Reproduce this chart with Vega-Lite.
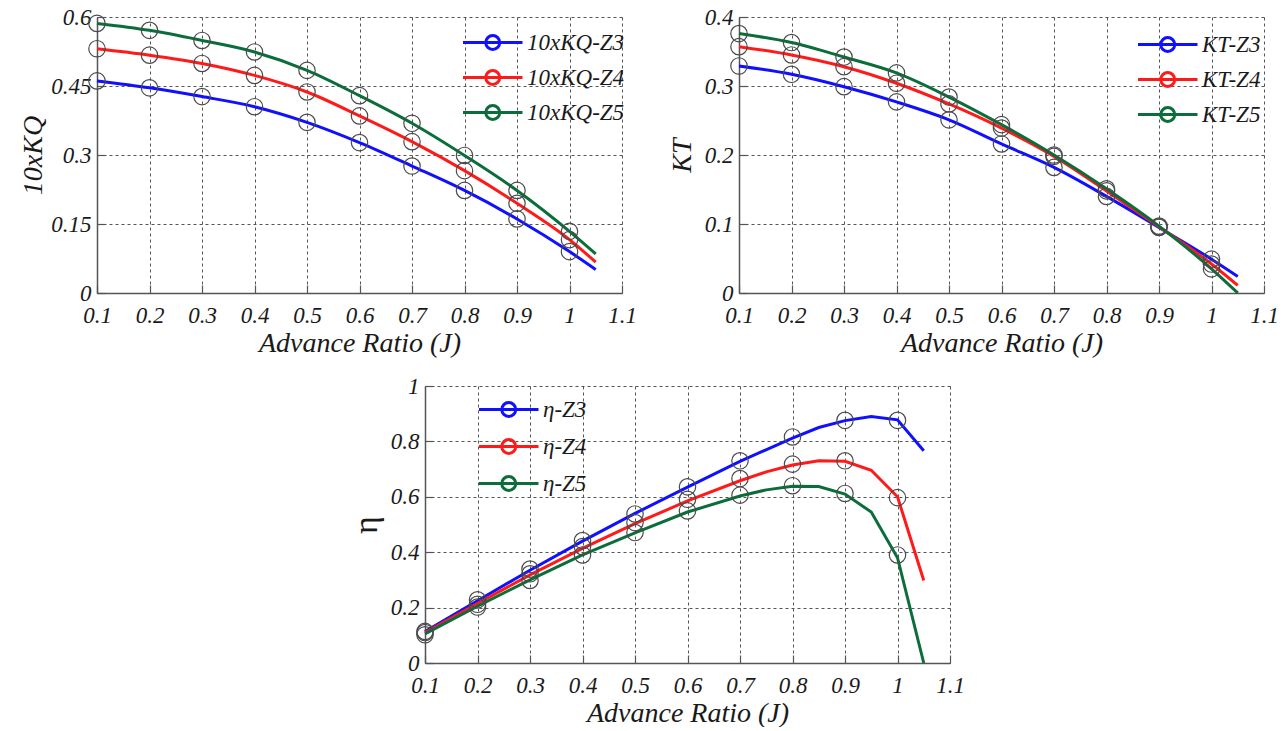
{
  "$schema": "https://vega.github.io/schema/vega-lite/v6.json",
  "padding": {"left": 19, "top": 6, "right": 0, "bottom": 0},
  "background": "white",
  "spacing": 18,
  "center": false,
  "resolve": {"scale": {"color": "independent"}, "legend": {"color": "independent"}},
  "config": {
    "view": {"stroke": null},
    "font": "Liberation Serif",
    "axis": {
      "labelFont": "Times New Roman, Liberation Serif, serif", "labelFontStyle": "italic", "labelFontSize": 23, "labelColor": "#1a1a1a",
      "titleFont": "Times New Roman, Liberation Serif, serif", "titleFontStyle": "italic", "titleFontSize": 28, "titleFontWeight": "normal", "titleColor": "#1a1a1a",
      "domainColor": "#555555", "domainWidth": 1.5, "tickColor": "#555555", "tickWidth": 1.2,
      "gridColor": "#555555", "gridDash": [3, 3], "gridWidth": 1,
      "labelOverlap": false, "labelFlush": false, "labelPadding": 14
    },
    "legend": {
      "labelFont": "Times New Roman, Liberation Serif, serif", "labelFontStyle": "italic", "labelFontSize": 23, "labelColor": "#1a1a1a",
      "symbolType": "M-1,0H6M3.32,0A0.82,0.82,0,1,1,1.68,0A0.82,0.82,0,1,1,3.32,0",
      "symbolSize": 289, "symbolStrokeWidth": 3, "symbolFillColor": "transparent",
      "labelOffset": 44, "rowPadding": 8, "padding": 0, "title": null
    }
  },
  "datasets": {
    "kq": [
      {"J": 0.1, "s": "10xKQ-Z3", "v": 0.461}, {"J": 0.2, "s": "10xKQ-Z3", "v": 0.446}, {"J": 0.3, "s": "10xKQ-Z3", "v": 0.427}, {"J": 0.4, "s": "10xKQ-Z3", "v": 0.405}, {"J": 0.5, "s": "10xKQ-Z3", "v": 0.371}, {"J": 0.6, "s": "10xKQ-Z3", "v": 0.327}, {"J": 0.7, "s": "10xKQ-Z3", "v": 0.276}, {"J": 0.8, "s": "10xKQ-Z3", "v": 0.223}, {"J": 0.9, "s": "10xKQ-Z3", "v": 0.161}, {"J": 1.0, "s": "10xKQ-Z3", "v": 0.090}, {"J": 1.05, "s": "10xKQ-Z3", "v": 0.051},
      {"J": 0.1, "s": "10xKQ-Z4", "v": 0.531}, {"J": 0.2, "s": "10xKQ-Z4", "v": 0.517}, {"J": 0.3, "s": "10xKQ-Z4", "v": 0.499}, {"J": 0.4, "s": "10xKQ-Z4", "v": 0.473}, {"J": 0.5, "s": "10xKQ-Z4", "v": 0.437}, {"J": 0.6, "s": "10xKQ-Z4", "v": 0.385}, {"J": 0.7, "s": "10xKQ-Z4", "v": 0.329}, {"J": 0.8, "s": "10xKQ-Z4", "v": 0.266}, {"J": 0.9, "s": "10xKQ-Z4", "v": 0.195}, {"J": 1.0, "s": "10xKQ-Z4", "v": 0.116}, {"J": 1.05, "s": "10xKQ-Z4", "v": 0.067},
      {"J": 0.1, "s": "10xKQ-Z5", "v": 0.586}, {"J": 0.2, "s": "10xKQ-Z5", "v": 0.571}, {"J": 0.3, "s": "10xKQ-Z5", "v": 0.549}, {"J": 0.4, "s": "10xKQ-Z5", "v": 0.524}, {"J": 0.5, "s": "10xKQ-Z5", "v": 0.484}, {"J": 0.6, "s": "10xKQ-Z5", "v": 0.429}, {"J": 0.7, "s": "10xKQ-Z5", "v": 0.369}, {"J": 0.8, "s": "10xKQ-Z5", "v": 0.299}, {"J": 0.9, "s": "10xKQ-Z5", "v": 0.223}, {"J": 1.0, "s": "10xKQ-Z5", "v": 0.134}, {"J": 1.05, "s": "10xKQ-Z5", "v": 0.085}
    ],
    "kt": [
      {"J": 0.1, "s": "KT-Z3", "v": 0.329}, {"J": 0.2, "s": "KT-Z3", "v": 0.317}, {"J": 0.3, "s": "KT-Z3", "v": 0.299}, {"J": 0.4, "s": "KT-Z3", "v": 0.277}, {"J": 0.5, "s": "KT-Z3", "v": 0.251}, {"J": 0.6, "s": "KT-Z3", "v": 0.216}, {"J": 0.7, "s": "KT-Z3", "v": 0.182}, {"J": 0.8, "s": "KT-Z3", "v": 0.140}, {"J": 0.9, "s": "KT-Z3", "v": 0.095}, {"J": 1.0, "s": "KT-Z3", "v": 0.049}, {"J": 1.05, "s": "KT-Z3", "v": 0.024},
      {"J": 0.1, "s": "KT-Z4", "v": 0.357}, {"J": 0.2, "s": "KT-Z4", "v": 0.345}, {"J": 0.3, "s": "KT-Z4", "v": 0.328}, {"J": 0.4, "s": "KT-Z4", "v": 0.304}, {"J": 0.5, "s": "KT-Z4", "v": 0.274}, {"J": 0.6, "s": "KT-Z4", "v": 0.239}, {"J": 0.7, "s": "KT-Z4", "v": 0.198}, {"J": 0.8, "s": "KT-Z4", "v": 0.148}, {"J": 0.9, "s": "KT-Z4", "v": 0.096}, {"J": 1.0, "s": "KT-Z4", "v": 0.042}, {"J": 1.05, "s": "KT-Z4", "v": 0.011},
      {"J": 0.1, "s": "KT-Z5", "v": 0.376}, {"J": 0.2, "s": "KT-Z5", "v": 0.363}, {"J": 0.3, "s": "KT-Z5", "v": 0.342}, {"J": 0.4, "s": "KT-Z5", "v": 0.319}, {"J": 0.5, "s": "KT-Z5", "v": 0.284}, {"J": 0.6, "s": "KT-Z5", "v": 0.244}, {"J": 0.7, "s": "KT-Z5", "v": 0.200}, {"J": 0.8, "s": "KT-Z5", "v": 0.151}, {"J": 0.9, "s": "KT-Z5", "v": 0.097}, {"J": 1.0, "s": "KT-Z5", "v": 0.035}, {"J": 1.05, "s": "KT-Z5", "v": 0.0}
    ],
    "etaLine": [
      {"J": 0.1, "s": "η-Z3", "v": 0.114}, {"J": 0.2, "s": "η-Z3", "v": 0.225}, {"J": 0.3, "s": "η-Z3", "v": 0.335}, {"J": 0.4, "s": "η-Z3", "v": 0.44}, {"J": 0.5, "s": "η-Z3", "v": 0.54}, {"J": 0.6, "s": "η-Z3", "v": 0.635}, {"J": 0.7, "s": "η-Z3", "v": 0.728}, {"J": 0.8, "s": "η-Z3", "v": 0.812}, {"J": 0.85, "s": "η-Z3", "v": 0.85}, {"J": 0.9, "s": "η-Z3", "v": 0.875}, {"J": 0.95, "s": "η-Z3", "v": 0.89}, {"J": 1.0, "s": "η-Z3", "v": 0.878}, {"J": 1.05, "s": "η-Z3", "v": 0.766},
      {"J": 0.1, "s": "η-Z4", "v": 0.11}, {"J": 0.2, "s": "η-Z4", "v": 0.215}, {"J": 0.3, "s": "η-Z4", "v": 0.318}, {"J": 0.4, "s": "η-Z4", "v": 0.414}, {"J": 0.5, "s": "η-Z4", "v": 0.503}, {"J": 0.6, "s": "η-Z4", "v": 0.585}, {"J": 0.7, "s": "η-Z4", "v": 0.658}, {"J": 0.75, "s": "η-Z4", "v": 0.69}, {"J": 0.8, "s": "η-Z4", "v": 0.715}, {"J": 0.85, "s": "η-Z4", "v": 0.73}, {"J": 0.9, "s": "η-Z4", "v": 0.728}, {"J": 0.95, "s": "η-Z4", "v": 0.696}, {"J": 1.0, "s": "η-Z4", "v": 0.6}, {"J": 1.05, "s": "η-Z4", "v": 0.298},
      {"J": 0.1, "s": "η-Z5", "v": 0.105}, {"J": 0.2, "s": "η-Z5", "v": 0.205}, {"J": 0.3, "s": "η-Z5", "v": 0.30}, {"J": 0.4, "s": "η-Z5", "v": 0.39}, {"J": 0.5, "s": "η-Z5", "v": 0.47}, {"J": 0.6, "s": "η-Z5", "v": 0.545}, {"J": 0.7, "s": "η-Z5", "v": 0.603}, {"J": 0.75, "s": "η-Z5", "v": 0.625}, {"J": 0.8, "s": "η-Z5", "v": 0.638}, {"J": 0.85, "s": "η-Z5", "v": 0.637}, {"J": 0.9, "s": "η-Z5", "v": 0.61}, {"J": 0.95, "s": "η-Z5", "v": 0.545}, {"J": 1.0, "s": "η-Z5", "v": 0.38}, {"J": 1.05, "s": "η-Z5", "v": 0.0}
    ],
    "etaPts": [
      {"J": 0.1, "s": "η-Z3", "v": 0.114}, {"J": 0.2, "s": "η-Z3", "v": 0.228}, {"J": 0.3, "s": "η-Z3", "v": 0.339}, {"J": 0.4, "s": "η-Z3", "v": 0.442}, {"J": 0.5, "s": "η-Z3", "v": 0.538}, {"J": 0.6, "s": "η-Z3", "v": 0.636}, {"J": 0.7, "s": "η-Z3", "v": 0.730}, {"J": 0.8, "s": "η-Z3", "v": 0.816}, {"J": 0.9, "s": "η-Z3", "v": 0.876}, {"J": 1.0, "s": "η-Z3", "v": 0.876},
      {"J": 0.1, "s": "η-Z4", "v": 0.110}, {"J": 0.2, "s": "η-Z4", "v": 0.212}, {"J": 0.3, "s": "η-Z4", "v": 0.322}, {"J": 0.4, "s": "η-Z4", "v": 0.420}, {"J": 0.5, "s": "η-Z4", "v": 0.507}, {"J": 0.6, "s": "η-Z4", "v": 0.591}, {"J": 0.7, "s": "η-Z4", "v": 0.666}, {"J": 0.8, "s": "η-Z4", "v": 0.718}, {"J": 0.9, "s": "η-Z4", "v": 0.730}, {"J": 1.0, "s": "η-Z4", "v": 0.597},
      {"J": 0.1, "s": "η-Z5", "v": 0.102}, {"J": 0.2, "s": "η-Z5", "v": 0.202}, {"J": 0.3, "s": "η-Z5", "v": 0.298}, {"J": 0.4, "s": "η-Z5", "v": 0.390}, {"J": 0.5, "s": "η-Z5", "v": 0.471}, {"J": 0.6, "s": "η-Z5", "v": 0.549}, {"J": 0.7, "s": "η-Z5", "v": 0.606}, {"J": 0.8, "s": "η-Z5", "v": 0.640}, {"J": 0.9, "s": "η-Z5", "v": 0.612}, {"J": 1.0, "s": "η-Z5", "v": 0.390}
    ]
  },
  "vconcat": [
    {
      "hconcat": [
        {
          "width": 525, "height": 276,
          "layer": [
            {
              "data": {"name": "kq"},
              "mark": {"type": "line", "interpolate": "monotone", "strokeWidth": 3},
              "encoding": {
                "x": {"field": "J", "type": "quantitative", "scale": {"domain": [0.1, 1.1], "nice": false, "zero": false},
                  "axis": {"title": "Advance Ratio (J)", "titlePadding": 2, "labelPadding": 19,
                    "values": [0.1, 0.15, 0.2, 0.25, 0.3, 0.35, 0.4, 0.45, 0.5, 0.55, 0.6, 0.65, 0.7, 0.75, 0.8, 0.85, 0.9, 0.95, 1, 1.05, 1.1],
                    "tickSize": {"condition": {"test": "abs(datum.value*10-round(datum.value*10))<0.01", "value": -8}, "value": -4},
                    "gridOpacity": {"condition": {"test": "abs(datum.value*10-round(datum.value*10))<0.01", "value": 1}, "value": 0},
                    "labelExpr": "abs(datum.value*10-round(datum.value*10))<0.01 ? format(datum.value,'~g') : ''"}},
                "y": {"field": "v", "type": "quantitative", "scale": {"domain": [0, 0.6], "nice": false},
                  "axis": {"title": "10xKQ", "titlePadding": 3,
                    "values": [0, 0.075, 0.15, 0.225, 0.3, 0.375, 0.45, 0.525, 0.6],
                    "tickSize": {"condition": {"test": "abs(datum.value/0.15-round(datum.value/0.15))<0.01", "value": -8}, "value": -4},
                    "gridOpacity": {"condition": {"test": "abs(datum.value/0.15-round(datum.value/0.15))<0.01", "value": 1}, "value": 0},
                    "labelExpr": "abs(datum.value/0.15-round(datum.value/0.15))<0.01 ? format(datum.value,'~g') : ''"}},
                "color": {"field": "s", "type": "nominal",
                  "scale": {"domain": ["10xKQ-Z3", "10xKQ-Z4", "10xKQ-Z5"], "range": ["#1010ff", "#ff1a1a", "#0b6e3a"]},
                  "legend": {"orient": "none", "legendX": 363, "legendY": 14}}
              }
            },
            {
              "data": {"name": "kq"},
              "transform": [{"filter": "datum.J <= 1.001"}],
              "mark": {"type": "point", "shape": "circle", "filled": false, "size": 270, "color": "#4a4a4a", "strokeWidth": 1.2, "opacity": 1},
              "encoding": {
                "x": {"field": "J", "type": "quantitative"},
                "y": {"field": "v", "type": "quantitative"},
                "detail": {"field": "s"}
              }
            }
          ]
        },
        {
          "width": 525, "height": 276,
          "layer": [
            {
              "data": {"name": "kt"},
              "mark": {"type": "line", "interpolate": "monotone", "strokeWidth": 3},
              "encoding": {
                "x": {"field": "J", "type": "quantitative", "scale": {"domain": [0.1, 1.1], "nice": false, "zero": false},
                  "axis": {"title": "Advance Ratio (J)", "titlePadding": 2, "labelPadding": 19,
                    "values": [0.1, 0.15, 0.2, 0.25, 0.3, 0.35, 0.4, 0.45, 0.5, 0.55, 0.6, 0.65, 0.7, 0.75, 0.8, 0.85, 0.9, 0.95, 1, 1.05, 1.1],
                    "tickSize": {"condition": {"test": "abs(datum.value*10-round(datum.value*10))<0.01", "value": -8}, "value": -4},
                    "gridOpacity": {"condition": {"test": "abs(datum.value*10-round(datum.value*10))<0.01", "value": 1}, "value": 0},
                    "labelExpr": "abs(datum.value*10-round(datum.value*10))<0.01 ? format(datum.value,'~g') : ''"}},
                "y": {"field": "v", "type": "quantitative", "scale": {"domain": [0, 0.4], "nice": false},
                  "axis": {"title": "KT", "titlePadding": 8,
                    "values": [0, 0.05, 0.1, 0.15, 0.2, 0.25, 0.3, 0.35, 0.4],
                    "tickSize": {"condition": {"test": "abs(datum.value*10-round(datum.value*10))<0.01", "value": -8}, "value": -4},
                    "gridOpacity": {"condition": {"test": "abs(datum.value*10-round(datum.value*10))<0.01", "value": 1}, "value": 0},
                    "labelExpr": "abs(datum.value*10-round(datum.value*10))<0.01 ? format(datum.value,'~g') : ''"}},
                "color": {"field": "s", "type": "nominal",
                  "scale": {"domain": ["KT-Z3", "KT-Z4", "KT-Z5"], "range": ["#1010ff", "#ff1a1a", "#0b6e3a"]},
                  "legend": {"orient": "none", "legendX": 396, "legendY": 16}}
              }
            },
            {
              "data": {"name": "kt"},
              "transform": [{"filter": "datum.J <= 1.001"}],
              "mark": {"type": "point", "shape": "circle", "filled": false, "size": 270, "color": "#4a4a4a", "strokeWidth": 1.2, "opacity": 1},
              "encoding": {
                "x": {"field": "J", "type": "quantitative"},
                "y": {"field": "v", "type": "quantitative"},
                "detail": {"field": "s"}
              }
            }
          ]
        }
      ],
      "spacing": 31,
      "resolve": {"scale": {"color": "independent"}, "legend": {"color": "independent"}}
    },
    {
      "hconcat": [
        {
          "width": 252, "height": 277,
          "data": {"values": []},
          "mark": "point"
        },
        {
          "width": 525, "height": 277,
          "layer": [
            {
              "data": {"name": "etaLine"},
              "mark": {"type": "line", "strokeWidth": 3},
              "encoding": {
                "x": {"field": "J", "type": "quantitative", "scale": {"domain": [0.1, 1.1], "nice": false, "zero": false},
                  "axis": {"title": "Advance Ratio (J)", "titlePadding": 2, "labelPadding": 19,
                    "values": [0.1, 0.15, 0.2, 0.25, 0.3, 0.35, 0.4, 0.45, 0.5, 0.55, 0.6, 0.65, 0.7, 0.75, 0.8, 0.85, 0.9, 0.95, 1, 1.05, 1.1],
                    "tickSize": {"condition": {"test": "abs(datum.value*10-round(datum.value*10))<0.01", "value": -8}, "value": -4},
                    "gridOpacity": {"condition": {"test": "abs(datum.value*10-round(datum.value*10))<0.01", "value": 1}, "value": 0},
                    "labelExpr": "abs(datum.value*10-round(datum.value*10))<0.01 ? format(datum.value,'~g') : ''"}},
                "y": {"field": "v", "type": "quantitative", "scale": {"domain": [0, 1], "nice": false},
                  "axis": {"title": "η", "titlePadding": 7, "titleFontStyle": "normal", "titleFontSize": 34,
                    "values": [0, 0.1, 0.2, 0.3, 0.4, 0.5, 0.6, 0.7, 0.8, 0.9, 1],
                    "tickSize": {"condition": {"test": "abs(datum.value*5-round(datum.value*5))<0.01", "value": -8}, "value": -4},
                    "gridOpacity": {"condition": {"test": "abs(datum.value*5-round(datum.value*5))<0.01", "value": 1}, "value": 0},
                    "labelExpr": "abs(datum.value*5-round(datum.value*5))<0.01 ? format(datum.value,'~g') : ''"}},
                "color": {"field": "s", "type": "nominal",
                  "scale": {"domain": ["η-Z3", "η-Z4", "η-Z5"], "range": ["#1010ff", "#ff1a1a", "#0b6e3a"]},
                  "legend": {"orient": "none", "legendX": 51, "legendY": 12, "rowPadding": 10}}
              }
            },
            {
              "data": {"name": "etaPts"},
              "mark": {"type": "point", "shape": "circle", "filled": false, "size": 270, "color": "#4a4a4a", "strokeWidth": 1.2, "opacity": 1},
              "encoding": {
                "x": {"field": "J", "type": "quantitative"},
                "y": {"field": "v", "type": "quantitative"},
                "detail": {"field": "s"}
              }
            }
          ]
        }
      ],
      "spacing": 0,
      "resolve": {"scale": {"color": "independent"}, "legend": {"color": "independent"}}
    }
  ]
}
